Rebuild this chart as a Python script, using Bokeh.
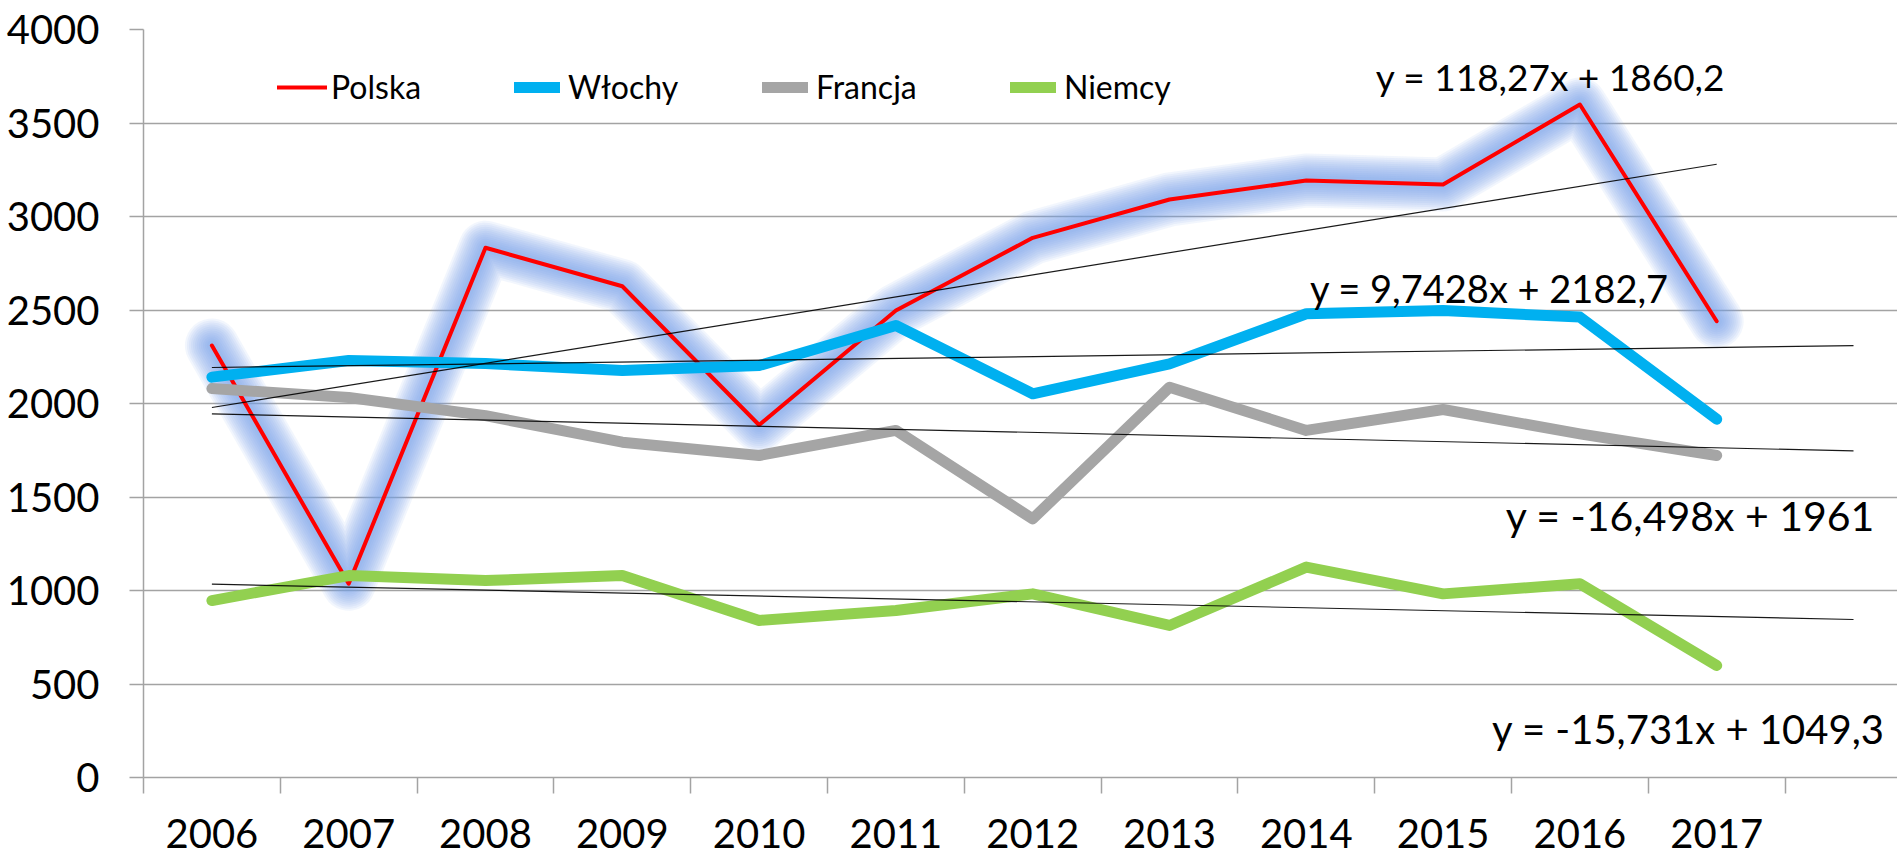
from bokeh.plotting import figure
from bokeh.models import Range1d, FixedTicker, Legend, LegendItem, Label
from bokeh.embed import file_html
from bokeh.resources import INLINE

# ---------------- data ----------------
years = [2006, 2007, 2008, 2009, 2010, 2011, 2012, 2013, 2014, 2015, 2016, 2017]
polska = [2310, 1036, 2833, 2627, 1885, 2497, 2886, 3091, 3192, 3171, 3599, 2440]
wlochy = [2141, 2230, 2214, 2176, 2203, 2417, 2052, 2212, 2480, 2497, 2462, 1916]
francja = [2080, 2032, 1935, 1793, 1722, 1856, 1383, 2087, 1856, 1968, 1838, 1722]
niemcy = [946, 1080, 1053, 1080, 840, 893, 982, 813, 1125, 982, 1036, 599]

series_names = ["Polska", "Włochy", "Francja", "Niemcy"]
trend_slope = [118.27, 9.7428, -16.498, -15.731]
trend_intercept = [1860.2, 2182.7, 1961.0, 1049.3]
trend_forecast = [0, 1, 1, 1]
trend_labels = ["y = 118,27x + 1860,2", "y = 9,7428x + 2182,7",
                "y = -16,498x + 1961", "y = -15,731x + 1049,3"]
y_ticks = [0, 500, 1000, 1500, 2000, 2500, 3000, 3500, 4000]

# ---------------- layout ----------------
FONT = "Lato"
GRID = "#a3a3a3"
W, H = 1897, 855
LEFT, TOP, BOTTOM = 143, 29, 78
step = 136.8
frame_w = W - LEFT
x0 = years[0] - 0.5

p = figure(width=W, height=H, output_backend="svg", toolbar_location=None,
           x_range=Range1d(x0, x0 + frame_w / step), y_range=Range1d(0, 4000),
           min_border_left=LEFT, min_border_right=0, min_border_top=TOP,
           min_border_bottom=BOTTOM)
p.outline_line_color = None
p.background_fill_color = "white"
p.border_fill_color = "white"
p.xgrid.grid_line_color = None
p.ygrid.grid_line_color = GRID
p.ygrid.grid_line_width = 1.5

# y axis
p.yaxis.ticker = FixedTicker(ticks=y_ticks)
p.yaxis.axis_line_color = GRID
p.yaxis.axis_line_width = 1.5
p.yaxis.major_tick_line_color = GRID
p.yaxis.major_tick_line_width = 1.5
p.yaxis.major_tick_out = 14
p.yaxis.major_tick_in = 0
p.yaxis.minor_tick_line_color = None
p.yaxis.major_label_standoff = 30
p.yaxis.major_label_text_font = FONT
p.yaxis.major_label_text_font_size = "40px"
p.yaxis.major_label_text_color = "black"

# x axis: labels at category centres, ticks at category boundaries
bounds = [y - 0.5 for y in years] + [years[-1] + 0.5]
p.xaxis.ticker = FixedTicker(ticks=years, minor_ticks=bounds)
p.xaxis.axis_line_color = GRID
p.xaxis.axis_line_width = 1.5
p.xaxis.major_tick_line_color = None
p.xaxis.major_tick_out = 0
p.xaxis.major_tick_in = 0
p.xaxis.minor_tick_line_color = GRID
p.xaxis.minor_tick_line_width = 1.5
p.xaxis.minor_tick_out = 16
p.xaxis.minor_tick_in = 0
p.xaxis.major_label_overrides = {y: str(y) for y in years}
p.xaxis.major_label_standoff = 25
p.xaxis.major_label_text_font = FONT
p.xaxis.major_label_text_font_size = "40px"
p.xaxis.major_label_text_color = "black"

# soft glow behind Polska
for w in range(54, 9, -4):
    p.line(years, polska, line_color="#7aa3ee", line_alpha=0.095, line_width=w,
           line_cap="round", line_join="round")

r_pl = p.line(years, polska, line_color="#ff0000", line_width=4,
              line_cap="round", line_join="round")
r_wl = p.line(years, wlochy, line_color="#00b0f0", line_width=11,
              line_cap="round", line_join="round")
r_fr = p.line(years, francja, line_color="#a5a5a5", line_width=11,
              line_cap="round", line_join="round")
r_de = p.line(years, niemcy, line_color="#92d050", line_width=11,
              line_cap="round", line_join="round")

# trendlines
for a, b, f in zip(trend_slope, trend_intercept, trend_forecast):
    xs = [years[0], years[-1] + f]
    ys = [a * (x - years[0] + 1) + b for x in xs]
    p.line(xs, ys, line_color="black", line_width=1.2, line_alpha=0.9)

# trendline equations (pixel centre -> data x)
def px_to_x(px):
    return x0 + (px - LEFT) / step

label_pos = [(px_to_x(1550), 3749, "37px"), (px_to_x(1489), 2620, "38px"),
             (px_to_x(1690), 1401, "41px"), (px_to_x(1688), 262, "40px")]
for txt, (lx, ly, fs) in zip(trend_labels, label_pos):
    p.add_layout(Label(x=lx, y=ly, text=txt, text_align="center",
                       text_baseline="middle", text_font=FONT,
                       text_font_size=fs, text_color="black"))

# legend: one entry per Legend so each sits where the reference has it
legend_x = [134, 371, 619, 867]
for n, r, lx in zip(series_names, [r_pl, r_wl, r_fr, r_de], legend_x):
    lg = Legend(items=[LegendItem(label=n, renderers=[r])],
                orientation="horizontal", location=(lx, 671),
                glyph_width=50 if r is r_pl else 46, glyph_height=30,
                label_standoff=4 if r is r_pl else 8,
                padding=0, margin=0, border_line_color=None,
                background_fill_alpha=0, label_text_font=FONT,
                label_text_font_size="32px", label_text_color="black")
    p.add_layout(lg)

open("out.html", "w").write(file_html(p, INLINE, title="Wykres"))
